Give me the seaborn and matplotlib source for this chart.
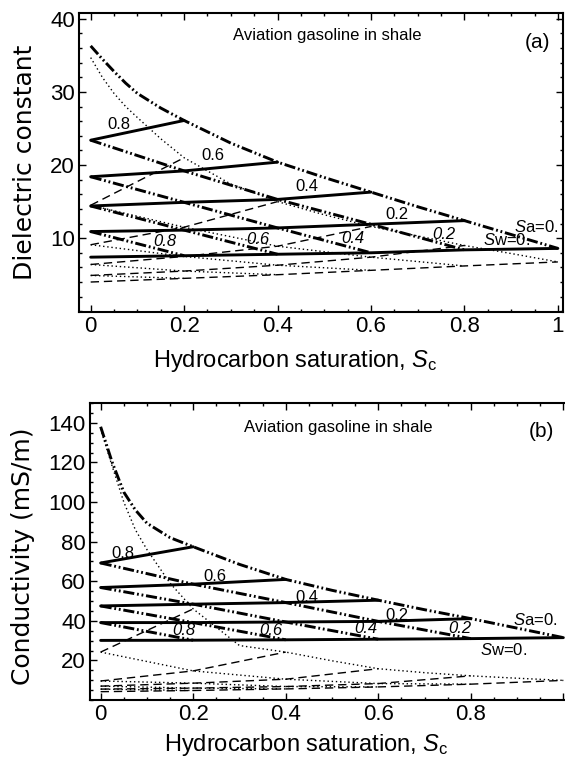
import matplotlib
matplotlib.use("Agg")
import matplotlib.pyplot as plt
import seaborn as sns
from matplotlib.ticker import MultipleLocator

# Hydrocarbon saturation grid (Sc) and a finer grid for the Sa=0 envelopes
sc_grid = [0, 0.2, 0.4, 0.6, 0.8, 1.0]
env_sc = [0, 0.025, 0.05, 0.075, 0.1, 0.15, 0.2, 0.3, 0.4, 0.5, 0.6, 0.7, 0.8, 0.9, 1.0]

# (a) dielectric constant, rows Sw = 0, 0.2, 0.4, 0.6, 0.8 ; values at Sc = 0, 0.2, ...
eps_sw = [
    [7.4, 7.6, 7.8, 8.0, 8.4, 8.6],
    [10.9, 11.1, 11.4, 11.9, 12.4],
    [14.4, 14.9, 15.3, 16.3],
    [18.4, 19.2, 20.4],
    [23.4, 26.1],
]
eps_env = [36.3, 34.5, 32.8, 31.2, 29.8, 27.8, 26.1, 23.0, 20.4, 18.3, 16.3, 14.3, 12.4, 10.5, 8.6]

# second model (thin lines)
eps2_sw = [
    [4.0, 4.5, 5.0, 5.6, 6.2, 6.75],
    [4.9, 5.5, 6.3, 7.4, 9.0],
    [6.4, 7.5, 8.9, 11.6],
    [9.1, 11.5, 15.0],
    [14.5, 21.0],
]
eps2_env = [34.7, 32.0, 29.8, 28.0, 26.5, 23.6, 21.0, 17.4, 15.0, 13.2, 11.6, 10.3, 9.0, 7.9, 6.75]

# (b) conductivity (mS/m)
sig_sw = [
    [30.1, 30.2, 30.4, 30.7, 31.0, 31.5],
    [39.1, 39.1, 39.4, 39.7, 41.1],
    [47.5, 48.4, 49.2, 50.4],
    [56.8, 58.5, 60.9],
    [69.2, 77.4],
]
sig_env = [138, 120, 105, 96, 89.3, 82, 77.4, 68.5, 60.9, 55.4, 50.4, 45.6, 41.1, 36.3, 31.5]

sig2_sw = [
    [4.2, 4.8, 5.6, 6.6, 8.0, 9.9],
    [5.5, 6.0, 6.8, 8.3, 12.2],
    [7.0, 8.5, 10.5, 15.8],
    [9.6, 14.7, 24.2],
    [24.2, 46.0],
]
sig2_env = [137, 118, 100, 86, 76, 59, 46, 27.5, 24.2, 19.8, 15.8, 13.8, 12.2, 11.0, 9.9]

# labels: (text, Sc, value)
a_sw_labels = [("0.8", 0.061, 25.6), ("0.6", 0.261, 21.3), ("0.4", 0.462, 17.0), ("0.2", 0.655, 13.3)]
a_sa_labels = [("0.8", 0.159, 9.6), ("0.6", 0.357, 9.8), ("0.4", 0.561, 10.0), ("0.2", 0.755, 10.5)]
b_sw_labels = [("0.8", 0.049, 74.0), ("0.6", 0.247, 62.2), ("0.4", 0.445, 52.0), ("0.2", 0.64, 42.8)]
b_sa_labels = [("0.8", 0.179, 35.2), ("0.6", 0.368, 35.2), ("0.4", 0.574, 36.0), ("0.2", 0.777, 36.0)]

sns.set_theme(style="ticks")
plt.rcParams["font.family"] = ["Liberation Sans", "DejaVu Sans"]
plt.rcParams["mathtext.fontset"] = "custom"
plt.rcParams["mathtext.rm"] = "Liberation Sans"
plt.rcParams["mathtext.it"] = "Liberation Sans:italic"
plt.rcParams["lines.scale_dashes"] = False
for key in ["text.color", "axes.labelcolor", "xtick.color", "ytick.color", "axes.edgecolor"]:
    plt.rcParams[key] = "black"

STYLES = {
    "solid": dict(linewidth=2.1, linestyle="-"),
    "dashdotdot": dict(linewidth=2.1, linestyle=(0, (8, 2, 1.3, 2, 1.3, 2))),
    "dotted": dict(linewidth=1.0, linestyle=(0, (1, 2))),
    "dashed": dict(linewidth=1.0, linestyle=(0, (6, 3.5))),
}


def draw(ax, xs, ys, kind):
    sns.lineplot(x=xs, y=ys, ax=ax, color="black", sort=False, estimator=None,
                 legend=False, **STYLES[kind])


def sa_lines(table):
    # constant Sa lines pick the nodes Sw = 1 - Sa - Sc out of the Sw table
    lines = []
    for m in range(1, 5):
        ys = [table[5 - m - k][k] for k in range(0, 6 - m)]
        lines.append((sc_grid[:len(ys)], ys))
    return lines


def grid(ax, sw_table, env, thin):
    sw_kind, sa_kind = ("dashed", "dotted") if thin else ("solid", "dashdotdot")
    for row in sw_table:
        draw(ax, sc_grid[:len(row)], row, sw_kind)
    for xs, ys in sa_lines(sw_table):
        draw(ax, xs, ys, sa_kind)
    draw(ax, env_sc, env, sa_kind)


def style_axes(ax, xlim, ylim, yticks, ymin, xticklabels):
    ax.set_xlim(*xlim)
    ax.set_ylim(*ylim)
    ax.set_xticks(sc_grid)
    ax.set_xticklabels(xticklabels)
    ax.xaxis.set_minor_locator(MultipleLocator(0.05))
    ax.set_yticks(yticks)
    ax.yaxis.set_minor_locator(MultipleLocator(ymin))
    ax.tick_params(which="both", direction="in", top=True, right=True,
                   labelsize=16, pad=3, width=1.0, color="black", labelcolor="black")
    ax.tick_params(which="major", length=5)
    ax.tick_params(which="minor", length=2.5)
    for s in ax.spines.values():
        s.set_linewidth(1.5)
        s.set_color("black")
    ax.set_xlabel("")
    ax.set_ylabel("")


def annotate(ax, sw_labels, sa_labels, sa0, sw0):
    for t, x, y in sw_labels:
        ax.text(x, y, t, fontsize=12, ha="center", va="center")
    for t, x, y in sa_labels:
        ax.text(x, y, t, fontsize=12, ha="center", va="center", style="italic")
    ax.text(sa0[0], sa0[1], "$S$a=0.", fontsize=12, ha="center", va="center")
    ax.text(sw0[0], sw0[1], "$S$w=0.", fontsize=12, ha="center", va="center")


fig = plt.figure(figsize=(5.65, 7.6), dpi=100)
ax1 = fig.add_axes([79 / 565, 448 / 760, 484 / 565, 299 / 760])
ax2 = fig.add_axes([90 / 565, 60 / 760, 484 / 565, 297 / 760])

# panel (a)
grid(ax1, eps2_sw, eps2_env, thin=True)
grid(ax1, eps_sw, eps_env, thin=False)
style_axes(ax1, (-0.025, 1.011), (-0.1, 40.8), [10, 20, 30, 40], 2,
           ["0", "0.2", "0.4", "0.6", "0.8", "1"])
annotate(ax1, a_sw_labels, a_sa_labels, (0.954, 11.5), (0.89, 9.8))
ax1.text(0.512, 0.926, "Aviation gasoline in shale", transform=ax1.transAxes,
         fontsize=12, ha="center", va="center")
ax1.text(0.948, 0.900, "(a)", transform=ax1.transAxes, fontsize=15, ha="center", va="center")

# panel (b)
grid(ax2, sig2_sw, sig2_env, thin=True)
grid(ax2, sig_sw, sig_env, thin=False)
style_axes(ax2, (-0.023, 1.023), (0, 150), [20, 40, 60, 80, 100, 120, 140], 5,
           ["0", "0.2", "0.4", "0.6", "0.8", ""])
annotate(ax2, b_sw_labels, b_sa_labels, (0.939, 40.3), (0.871, 25.4))
ax2.text(0.513, 0.918, "Aviation gasoline in shale", transform=ax2.transAxes,
         fontsize=12, ha="center", va="center")
ax2.text(0.933, 0.903, "(b)", transform=ax2.transAxes, fontsize=15, ha="center", va="center")

# axis titles
xlab = r"Hydrocarbon saturation, $S_\mathrm{c}$"
fig.text(294.7 / 565, 1 - 367 / 760, xlab, fontsize=17, ha="center", va="baseline")
fig.text(305.7 / 565, 1 - 751 / 760, xlab, fontsize=17, ha="center", va="baseline")
fig.text(25 / 565, 1 - 162.5 / 760, "Dielectric constant", fontsize=18, rotation=90,
         ha="center", va="center", family="DejaVu Sans")
fig.text(23 / 565, 1 - 556 / 760, "Conductivity (mS/m)", fontsize=18, rotation=90,
         ha="center", va="center", family="DejaVu Sans")

fig.savefig("out.png", dpi=100)
